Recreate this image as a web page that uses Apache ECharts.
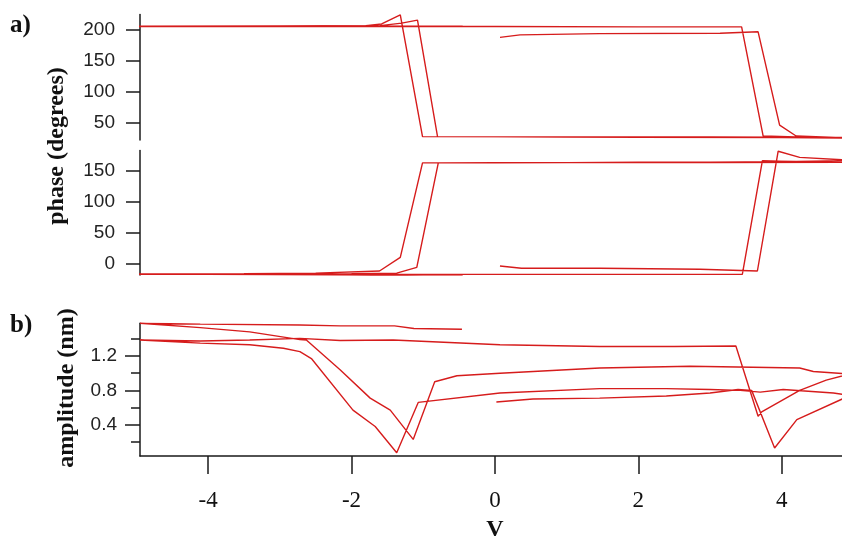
<!DOCTYPE html>
<html>
<head>
<meta charset="utf-8">
<script src="https://cdn.jsdelivr.net/npm/echarts@6/dist/echarts.min.js"></script>
<style>
html,body{margin:0;padding:0;background:#fff;}
#c{width:842px;height:540px;}
</style>
</head>
<body>
<div id="c"></div>
<script>
// ---- Data ----
// Panel a) upper: phase (degrees) vs V, in sweep order
const phaseTopV   = [0.07,0.35,1.46,3.14,3.67,3.97,4.2,5.0, 4.0,2.0,0.0,-0.8,-1.08,-1.30,-1.6,-3.0,-5.0, -3.0,0.0,2.0,3.44,3.74,4.2,5.0, 3.0,1.0,-1.01,-1.32,-1.58,-1.8,-3.0,-5.0, -3.0,-1.0,-0.45];
const phaseTopDeg = [188,192,194,194.6,197,46,28.5,25, 26,26.5,27,27,216,211,207,206,205.5, 205.5,205.5,205,205,28.5,27,26, 27,27,27.4,224.5,209.7,207,206,206, 206.5,206,206];

// Panel a) lower: phase (degrees) vs V, in sweep order
const phaseBotV   = [0.07,0.37,1.46,2.86,3.66,3.95,4.25,5.0, 4.0,3.0,2.0,1.0,0.0,-0.79,-1.09,-1.37,-2.0,-3.0,-4.0,-5.0, -4.0,-2.0,0.0,2.0,3.45,3.73,4.2,5.0, 3.0,1.0,-1.01,-1.32,-1.61,-2.5,-3.5,-5.0, -4.0,-2.0,-1.0,-0.45];
const phaseBotDeg = [-4.4,-8,-8.1,-9.7,-12.5,182,172,167, 165,164,164,163.5,163.3,163,-6.5,-16,-17,-17.5,-18,-18, -18,-18,-18,-18,-18,166.6,165,164, 163.5,163.5,163,9.7,-12.5,-16,-17,-17.5, -18,-19,-20.6,-20.6];

// Panel b): amplitude (nm) vs V, in sweep order
const ampV  = [0.02,0.53,1.46,2.39,3.0,3.39,3.58,3.9,4.21,4.95,
               4.72,4.02,3.7,3.42,3.0,2.39,1.46,0.07,-1.07,-1.37,-1.67,-1.98,-2.56,-2.72,-2.95,-3.42,-4.11,-4.95,
               -4.11,-3.42,-2.72,-2.16,-1.42,0.07,1.46,2.5,3.36,3.67,3.72,4.25,4.62,4.95,
               4.44,4.25,2.72,1.46,0.07,-0.53,-0.84,-1.14,-1.46,-1.74,-2.16,-2.63,-2.72,-3.42,-4.11,-4.95,
               -4.11,-2.72,-2.16,-1.4,-1.13,-0.46];
const ampNm = [0.665,0.70,0.71,0.735,0.77,0.81,0.80,0.13,0.46,0.74,
               0.77,0.81,0.78,0.80,0.81,0.82,0.82,0.77,0.66,0.075,0.38,0.57,1.17,1.25,1.29,1.33,1.35,1.386,
               1.375,1.386,1.405,1.38,1.386,1.33,1.31,1.31,1.316,0.50,0.55,0.80,0.92,0.99,
               1.02,1.06,1.08,1.06,1.00,0.97,0.90,0.23,0.57,0.71,1.04,1.386,1.39,1.48,1.53,1.58,
               1.57,1.56,1.55,1.55,1.52,1.51];

// Tick values
const xTicks = [-4,-2,0,2,4];
const phaseTopTicks = [50,100,150,200];
const phaseBotTicks = [0,50,100,150];
const ampTicks = [0.4,0.8,1.2];
const ampMinorTicks = [0.2,0.6,1.0,1.4];

const zip = (a,b) => a.map((v,i)=>[v,b[i]]);

const RED = '#d61c1c';
const AX = '#1a1a1a';
const X_MIN = -4.95, X_MAX = 4.84;

const chart = echarts.init(document.getElementById('c'), null, {renderer:'canvas'});

function yAxisCommon(grid, min, max, ticks, tickLen, margin, fmt){
  return {
    type:'value', gridIndex:grid, min:min, max:max, position:'left',
    axisLine:{show:true, onZero:false, lineStyle:{color:AX, width:1.5}},
    axisTick:{show:true, inside:false, length:tickLen, customValues:ticks, lineStyle:{color:AX, width:1.5}},
    axisLabel:{show:true, customValues:ticks, margin:margin, color:'#222', fontSize:19,
      fontFamily:'Liberation Sans, Arial, sans-serif', formatter:fmt},
    splitLine:{show:false}
  };
}

const option = {
  animation:false,
  backgroundColor:'#fff',
  grid:[
    {left:140, right:0, top:14.5, height:125.5},
    {left:140, right:0, top:150.6, height:124.4},
    {left:140, right:0, top:323.3, height:132.7}
  ],
  xAxis:[
    {type:'value', gridIndex:0, min:X_MIN, max:X_MAX, show:false},
    {type:'value', gridIndex:1, min:X_MIN, max:X_MAX, show:false},
    {type:'value', gridIndex:2, min:X_MIN, max:X_MAX, position:'bottom',
      axisLine:{show:true, onZero:false, lineStyle:{color:AX, width:1.5}},
      axisTick:{show:true, inside:false, length:18, customValues:xTicks, lineStyle:{color:AX, width:1.5}},
      axisLabel:{show:true, customValues:xTicks, margin:33, color:'#111', fontSize:23,
        fontFamily:'Liberation Serif, Times New Roman, serif', showMinLabel:true, showMaxLabel:true},
      splitLine:{show:false}
    }
  ],
  yAxis:[
    yAxisCommon(0, 22, 225, phaseTopTicks, 14, 25, v=>String(v)),
    yAxisCommon(1, -19, 183, phaseBotTicks, 14, 25, v=>String(v)),
    yAxisCommon(2, 0.037, 1.58, ampTicks, 15, 23, v=>v.toFixed(1)),
    {type:'value', gridIndex:2, min:0.037, max:1.58, position:'left',
      axisLine:{show:false, onZero:false},
      axisTick:{show:true, inside:false, length:9, customValues:ampMinorTicks, lineStyle:{color:AX, width:1.5}},
      axisLabel:{show:false}, splitLine:{show:false}}
  ],
  series:[
    {type:'line', xAxisIndex:0, yAxisIndex:0, data:zip(phaseTopV, phaseTopDeg), showSymbol:false, clip:true,
      lineStyle:{color:RED, width:1.4}, itemStyle:{color:RED}},
    {type:'line', xAxisIndex:1, yAxisIndex:1, data:zip(phaseBotV, phaseBotDeg), showSymbol:false, clip:true,
      lineStyle:{color:RED, width:1.4}, itemStyle:{color:RED}},
    {type:'line', xAxisIndex:2, yAxisIndex:2, data:zip(ampV, ampNm), showSymbol:false, clip:true,
      lineStyle:{color:RED, width:1.4}, itemStyle:{color:RED}}
  ],
  graphic:[
    {type:'text', x:10, y:26, style:{text:'a)', font:'bold 25px "Liberation Serif", serif', fill:'#111', align:'left', verticalAlign:'middle'}},
    {type:'text', x:10, y:326, style:{text:'b)', font:'bold 25px "Liberation Serif", serif', fill:'#111', align:'left', verticalAlign:'middle'}},
    {type:'text', x:57, y:146, rotation:Math.PI/2, style:{text:'phase (degrees)', font:'bold 24px "Liberation Serif", serif', fill:'#111', align:'center', verticalAlign:'middle'}},
    {type:'text', x:67, y:388, rotation:Math.PI/2, style:{text:'amplitude (nm)', font:'bold 24px "Liberation Serif", serif', fill:'#111', align:'center', verticalAlign:'middle'}},
    {type:'text', x:495, y:530, style:{text:'V', font:'bold 24px "Liberation Serif", serif', fill:'#111', align:'center', verticalAlign:'middle'}}
  ]
};
chart.setOption(option);
</script>
</body>
</html>
